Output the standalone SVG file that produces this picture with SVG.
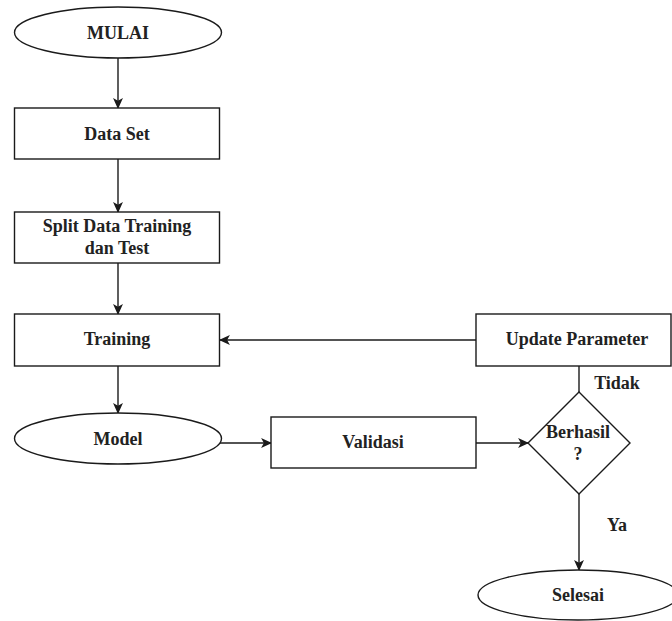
<svg xmlns="http://www.w3.org/2000/svg" width="672" height="621" viewBox="0 0 672 621">
  <style>
    .shape { fill: #ffffff; stroke: #1a1a1a; stroke-width: 1.4; }
    .edge { fill: none; stroke: #1a1a1a; stroke-width: 1.4; }
    .lbl { font-family: "Liberation Serif", "Times New Roman", serif; font-weight: bold; font-size: 18px; fill: #222; text-anchor: middle; dominant-baseline: central; }
  </style>
  <defs>
    <marker id="arrow" viewBox="0 0 10 10" refX="9" refY="5" markerWidth="11" markerHeight="11" markerUnits="userSpaceOnUse" orient="auto">
      <path d="M0,0.5 L10,5 L0,9.5 L2.5,5 Z" fill="#1a1a1a"/>
    </marker>
  </defs>
  <rect width="672" height="621" fill="#ffffff"/>

  <g id="connectors">
    <line class="edge" x1="118" y1="58" x2="118" y2="108" marker-end="url(#arrow)"/>
    <line class="edge" x1="118" y1="159" x2="118" y2="212" marker-end="url(#arrow)"/>
    <line class="edge" x1="118" y1="263" x2="118" y2="314" marker-end="url(#arrow)"/>
    <line class="edge" x1="118" y1="366" x2="118" y2="413" marker-end="url(#arrow)"/>
    <line class="edge" x1="220" y1="443" x2="271" y2="443" marker-end="url(#arrow)"/>
    <line class="edge" x1="476" y1="443" x2="528" y2="443" marker-end="url(#arrow)"/>
    <line class="edge" x1="579" y1="392" x2="579" y2="366"/>
    <line class="edge" x1="476" y1="340" x2="220" y2="340" marker-end="url(#arrow)"/>
    <line class="edge" x1="579" y1="494" x2="579" y2="570" marker-end="url(#arrow)"/>
    <text class="lbl" x="617" y="383">Tidak</text>
    <text class="lbl" x="617" y="525">Ya</text>
  </g>

  <g id="mulai">
    <ellipse class="shape" cx="118" cy="32.5" rx="103.5" ry="25.5"/>
    <text class="lbl" x="118" y="32.5">MULAI</text>
  </g>
  <g id="dataset">
    <rect class="shape" x="14.5" y="108" width="205" height="51"/>
    <text class="lbl" x="117" y="134">Data Set</text>
  </g>
  <g id="split">
    <rect class="shape" x="14.5" y="212" width="205" height="51"/>
    <text class="lbl" x="117" y="226">Split Data Training</text>
    <text class="lbl" x="117" y="248">dan Test</text>
  </g>
  <g id="training">
    <rect class="shape" x="14.5" y="314" width="205" height="52"/>
    <text class="lbl" x="117" y="339">Training</text>
  </g>
  <g id="model">
    <ellipse class="shape" cx="118" cy="438.5" rx="103.5" ry="25.5"/>
    <text class="lbl" x="118" y="439">Model</text>
  </g>
  <g id="validasi">
    <rect class="shape" x="271" y="417" width="205" height="51"/>
    <text class="lbl" x="373" y="442">Validasi</text>
  </g>
  <g id="update">
    <rect class="shape" x="476" y="314" width="195" height="52"/>
    <text class="lbl" x="577" y="339">Update Parameter</text>
  </g>
  <g id="berhasil">
    <polygon class="shape" points="579,392 630,443 579,494 528,443"/>
    <text class="lbl" x="578" y="432">Berhasil</text>
    <text class="lbl" x="578" y="454">?</text>
  </g>
  <g id="selesai">
    <ellipse class="shape" cx="578" cy="595" rx="100" ry="25"/>
    <text class="lbl" x="578" y="595">Selesai</text>
  </g>
</svg>
